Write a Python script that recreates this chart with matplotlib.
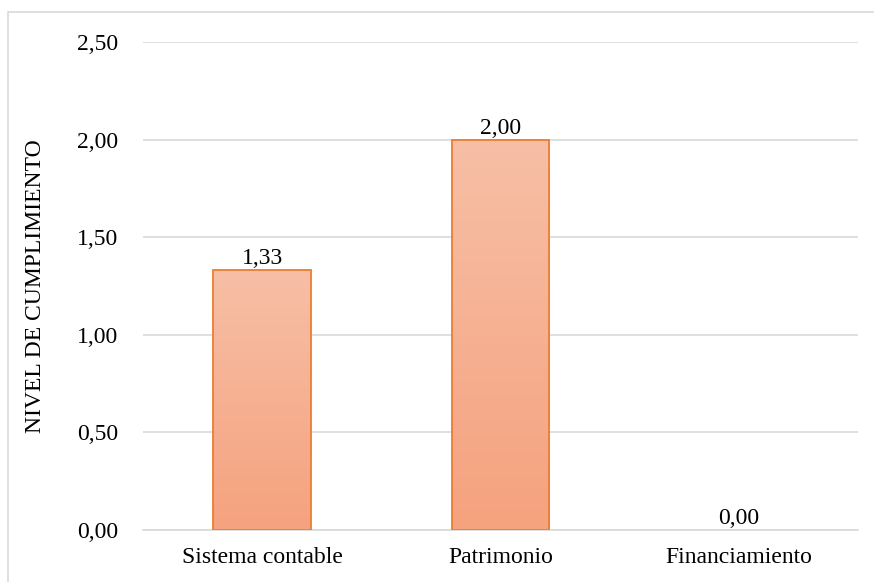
import numpy as np
import matplotlib.pyplot as plt
from matplotlib.colors import LinearSegmentedColormap
from matplotlib.patches import Rectangle

categorias = ["Sistema contable", "Patrimonio", "Financiamiento"]
valores = [1.33, 2.00, 0.00]
etiquetas = ["1,33", "2,00", "0,00"]
ticks_y = [0.0, 0.5, 1.0, 1.5, 2.0, 2.5]
ticks_y_txt = ["0,00", "0,50", "1,00", "1,50", "2,00", "2,50"]

plt.rcParams['font.family'] = ['Liberation Serif', 'DejaVu Serif']
fs = 17

fig = plt.figure(figsize=(8.74, 5.82), dpi=100)
ax = fig.add_axes([143 / 874, 1 - 530 / 582, 715 / 874, 488 / 582])

# marco del grafico
fig.patches.append(Rectangle((8 / 874, -0.02), 1.2, 1 - 12 / 582 + 0.02,
                             transform=fig.transFigure, fill=False,
                             edgecolor='#D9D9D9', linewidth=1.2))

x = np.arange(len(categorias))
ancho = 0.41
degradado = LinearSegmentedColormap.from_list('deg', ['#F5A27E', '#F7BFA6'])
grad = np.linspace(0, 1, 256).reshape(-1, 1)

bars = ax.bar(x, valores, width=ancho, color='none', edgecolor='#ED7D31',
              linewidth=1.3, zorder=3)
for b in bars:
    if b.get_height() <= 0:
        b.set_linewidth(0)
        continue
    x0, w, h = b.get_x(), b.get_width(), b.get_height()
    ax.imshow(grad, cmap=degradado, origin='lower', aspect='auto',
              extent=(x0, x0 + w, 0, h), zorder=2)

for xi, v, t in zip(x, valores, etiquetas):
    ax.text(xi, v + 0.005, t, ha='center', va='bottom', fontsize=fs, zorder=4)

ax.set_xlim(-0.5, 2.5)
ax.set_ylim(0, 2.5)
ax.set_yticks(ticks_y)
ax.set_yticklabels(ticks_y_txt, fontsize=fs)
ax.set_xticks(x)
ax.set_xticklabels(categorias, fontsize=fs)
ax.tick_params(length=0)
ax.tick_params(axis='x', pad=12)
ax.tick_params(axis='y', pad=18)
ax.set_ylabel('NIVEL DE CUMPLIMIENTO', fontsize=fs)
ax.yaxis.set_label_coords(-0.136, 0.5)

ax.grid(axis='y', color='#D9D9D9', linewidth=1.2, zorder=0)
ax.set_axisbelow(True)
for s in ['top', 'right', 'left']:
    ax.spines[s].set_visible(False)
ax.spines['bottom'].set_color('#D9D9D9')
ax.spines['bottom'].set_linewidth(1.2)

fig.savefig('out.png', dpi=100)
